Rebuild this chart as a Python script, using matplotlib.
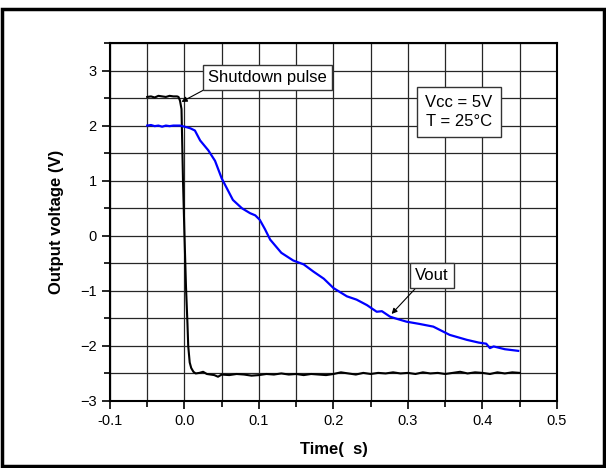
import matplotlib.pyplot as plt
import matplotlib.patches as patches
import numpy as np

plt.rcParams['font.family'] = ['Liberation Sans', 'DejaVu Sans']

# shutdown pulse (black)
pulse_t = [-0.05, -0.045, -0.04, -0.035, -0.03, -0.025, -0.02, -0.015, -0.01, -0.008,
           -0.006, -0.004, -0.002, 0.0, 0.002, 0.004, 0.005, 0.007, 0.009, 0.012, 0.015,
           0.02, 0.025, 0.03, 0.035, 0.04, 0.045, 0.05, 0.06, 0.07, 0.08, 0.09, 0.10,
           0.11, 0.12, 0.13, 0.14, 0.15, 0.16, 0.17, 0.18, 0.19, 0.20, 0.21, 0.22,
           0.23, 0.24, 0.25, 0.26, 0.27, 0.28, 0.29, 0.30, 0.31, 0.32, 0.33, 0.34,
           0.35, 0.36, 0.37, 0.38, 0.39, 0.40, 0.41, 0.42, 0.43, 0.44, 0.45]
pulse_v = [2.52, 2.53, 2.51, 2.54, 2.53, 2.52, 2.54, 2.53, 2.53, 2.52,
           2.45, 2.3, 1.0, 0.0, -0.92, -1.6, -2.0, -2.3, -2.4, -2.47, -2.5,
           -2.49, -2.47, -2.51, -2.52, -2.53, -2.56, -2.52, -2.53, -2.51, -2.52, -2.54, -2.53,
           -2.51, -2.52, -2.50, -2.52, -2.51, -2.53, -2.51, -2.52, -2.53, -2.51, -2.48, -2.50,
           -2.52, -2.49, -2.51, -2.49, -2.50, -2.48, -2.50, -2.49, -2.51, -2.48, -2.50, -2.49,
           -2.51, -2.49, -2.47, -2.50, -2.48, -2.49, -2.51, -2.48, -2.50, -2.48, -2.49]

# output voltage (blue)
vout_t = [-0.05, -0.045, -0.04, -0.035, -0.03, -0.025, -0.02, -0.015, -0.01, -0.006,
          0.003, 0.008, 0.014, 0.021, 0.032, 0.041, 0.05, 0.065, 0.077, 0.088, 0.095,
          0.101, 0.108, 0.115, 0.13, 0.146, 0.16, 0.173, 0.187, 0.2, 0.218, 0.231,
          0.245, 0.258, 0.265, 0.276, 0.283, 0.298, 0.315, 0.334, 0.356, 0.379,
          0.395, 0.405, 0.41, 0.415, 0.43, 0.448]
vout_v = [2.0, 2.01, 1.99, 2.0, 1.98, 2.0, 1.99, 2.0, 2.0, 2.0,
          1.97, 1.95, 1.91, 1.73, 1.55, 1.36, 1.04, 0.65, 0.5, 0.41, 0.37,
          0.29, 0.12, -0.07, -0.31, -0.45, -0.52, -0.65, -0.78, -0.95, -1.1, -1.16,
          -1.26, -1.38, -1.37, -1.47, -1.5, -1.56, -1.6, -1.65, -1.8, -1.89,
          -1.94, -1.96, -2.04, -2.01, -2.06, -2.09]

fig = plt.figure(figsize=(6.06, 4.68), dpi=100)
ax = fig.add_axes([0.1815, 0.1432, 0.7376, 0.765])

ax.set_xlim(-0.1, 0.5)
ax.set_ylim(-3, 3.5)
ax.set_xticks(np.arange(-0.1, 0.51, 0.1))
ax.set_xticks(np.arange(-0.1, 0.51, 0.05), minor=True)
ax.set_yticks(np.arange(-3, 3.1, 1))
ax.set_yticks(np.arange(-3, 3.6, 0.5), minor=True)
ax.set_xticklabels(['-0.1', '0.0', '0.1', '0.2', '0.3', '0.4', '0.5'])
ax.grid(True, which='both', color='0.15', lw=0.9)
ax.set_axisbelow(True)
ax.tick_params(which='both', direction='out', labelsize=10.5, width=1.2)
ax.tick_params(which='major', length=6)
ax.tick_params(which='minor', length=4)
for s in ax.spines.values():
    s.set_linewidth(1.5)

ax.plot(pulse_t, pulse_v, color='black', lw=1.5)
ax.plot(vout_t, vout_v, color='#0000ff', lw=1.6)

ax.set_xlabel('Time(  s)', fontsize=12, fontweight='bold', labelpad=10)
ax.set_ylabel('Output voltage (V)', fontsize=12, fontweight='bold', labelpad=12)

box = dict(boxstyle='square,pad=0.3', fc='white', ec='0.2', lw=1)
ax.annotate('Shutdown pulse', xy=(-0.004, 2.43), xytext=(0.111, 2.88),
            fontsize=12, ha='center', va='center', bbox=box,
            arrowprops=dict(arrowstyle='-|>', color='black', lw=0.8,
                            mutation_scale=8, shrinkA=0, shrinkB=0,
                            relpos=(0.05, 0.0)))
ax.text(0.368, 2.25, 'Vcc = 5V\nT = 25°C', fontsize=12, ha='center',
        va='center', bbox=dict(boxstyle='square,pad=0.5', fc='white', ec='0.2', lw=1),
        linespacing=1.3)
ax.annotate('Vout', xy=(0.278, -1.42), xytext=(0.332, -0.73),
            fontsize=12, ha='center', va='center', bbox=box,
            arrowprops=dict(arrowstyle='-|>', color='black', lw=0.8,
                            mutation_scale=8, shrinkA=0, shrinkB=0,
                            relpos=(0.15, 0.0)))

# outer frame
fig.patches.append(patches.Rectangle((1.5 / 606, 2 / 468), 602 / 606, 457 / 468,
                                     transform=fig.transFigure, fill=False,
                                     ec='black', lw=2.5))

fig.savefig('out.png', dpi=100)
